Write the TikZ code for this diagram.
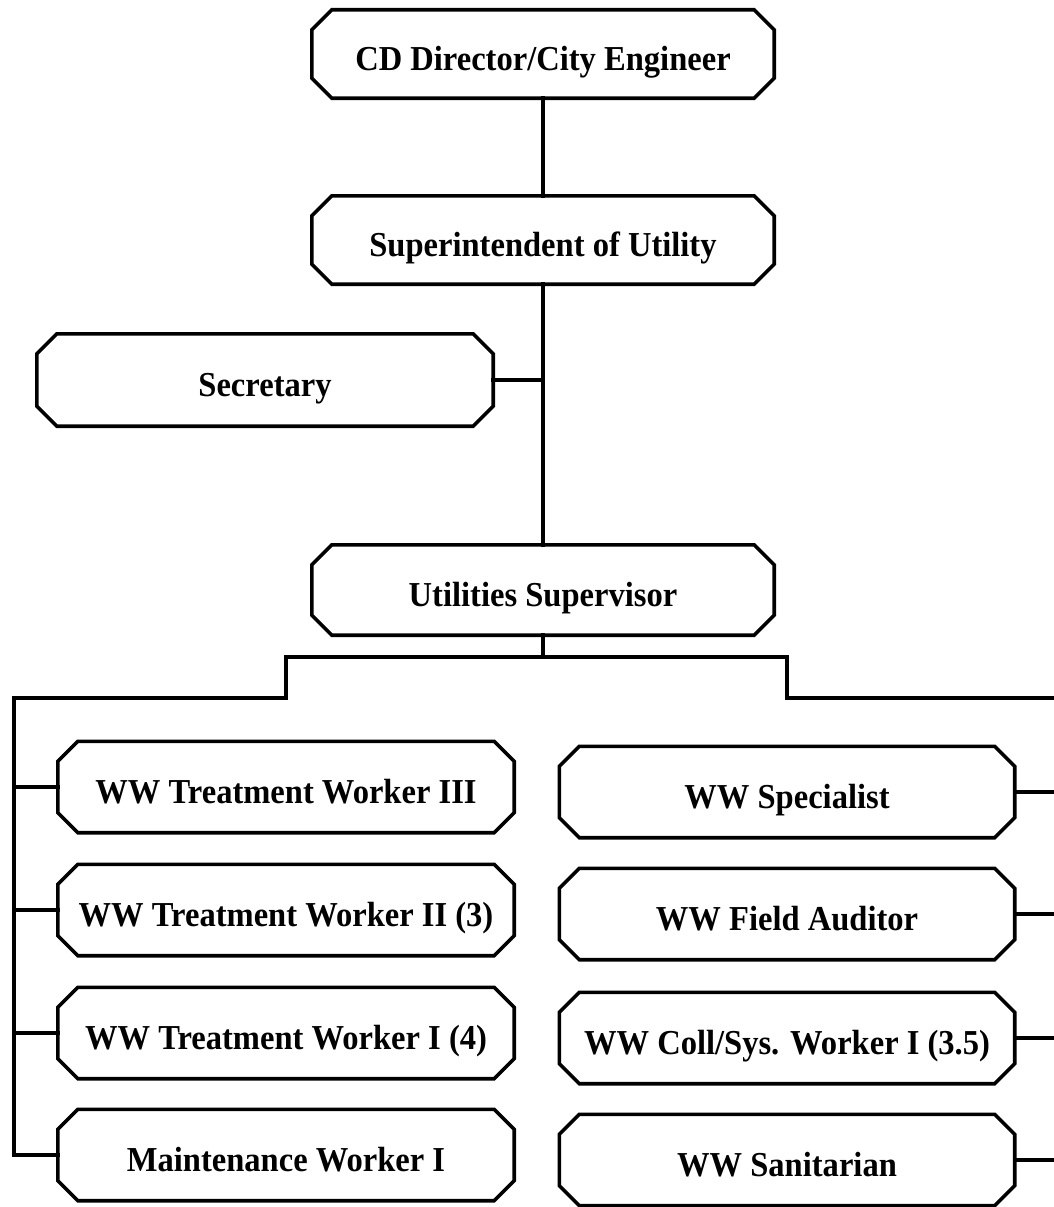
\documentclass[tikz,border=0pt]{standalone}
\usepackage{fontspec}
\setmainfont{Liberation Serif}
\newfontfamily\boxfont[FakeStretch=0.93]{Liberation Serif}
\begin{document}
\begin{tikzpicture}[x=1pt,y=-1pt,
  lw/.style={line width=3.6pt},
  box/.style={inner sep=0pt, text height=33pt, text depth=0pt,
    font=\boxfont\fontsize{35}{40}\selectfont\bfseries},
  topbox/.style={box, minimum width=462pt, minimum height=88pt},
  colbox/.style={box, minimum width=456pt, minimum height=91pt},
  link/.style={lw, line join=miter, line cap=rect}]
\useasboundingbox (0,0) rectangle (1054,1207);

% upper chain
\node[topbox] (cd)   at (543,54)  {CD Director/City Engineer};
\node[topbox] (sup)  at (543,240) {Superintendent of Utility};
\node[colbox, minimum height=92pt] (sec) at (265,380) {Secretary};
\node[topbox, minimum height=90pt] (util) at (543,590) {Utilities Supervisor};

% left column
\node[colbox] (L1) at (286,787)  {WW Treatment Worker III};
\node[colbox] (L2) at (286,910)  {WW Treatment Worker II (3)};
\node[colbox] (L3) at (286,1033) {WW Treatment Worker I (4)};
\node[colbox] (L4) at (286,1155) {Maintenance Worker I};

% right column
\node[colbox, minimum width=455pt] (R1) at (787,792)  {WW Specialist};
\node[colbox, minimum width=455pt] (R2) at (787,914)  {WW Field Auditor};
\node[colbox, minimum width=455pt] (R3) at (787,1038) {WW Coll/Sys. Worker I (3.5)};
\node[colbox, minimum width=455pt] (R4) at (787,1160) {WW Sanitarian};

% chamfered outlines
\foreach \n in {cd,sup,sec,util,L1,L2,L3,L4,R1,R2,R3,R4}
  \draw[lw, line join=miter]
    ([xshift=20pt]\n.north west) -- ([xshift=-20pt]\n.north east)
    -- ([yshift=-20pt]\n.north east) -- ([yshift=20pt]\n.south east)
    -- ([xshift=-20pt]\n.south east) -- ([xshift=20pt]\n.south west)
    -- ([yshift=20pt]\n.south west) -- ([yshift=-20pt]\n.north west) -- cycle;

% bus points
\coordinate (bt)   at (543,657);
\coordinate (busL) at (14,698);
\coordinate (busR) at (1054,698);

% connectors
\draw[link] (cd.south) -- (sup.north);
\draw[link] (sup.south) -- (util.north);
\draw[link] (sec.east) -- (sec.east -| sup.south);
\draw[link] (util.south) -- (bt);
\draw[link] (bt) -- (bt -| L1.center) -- (L1.center |- busL) -- (busL)
  -- (busL |- L4.west) -- (L4.west);
\draw[link] (bt) -- (bt -| R1.center) -- (R1.center |- busR) -- (busR);
\foreach \n in {L1,L2,L3}
  \draw[link] (\n.west) -- (\n.west -| busL);
\foreach \n in {R1,R2,R3,R4}
  \draw[link] (\n.east) -- (\n.east -| busR);
\end{tikzpicture}
\end{document}
